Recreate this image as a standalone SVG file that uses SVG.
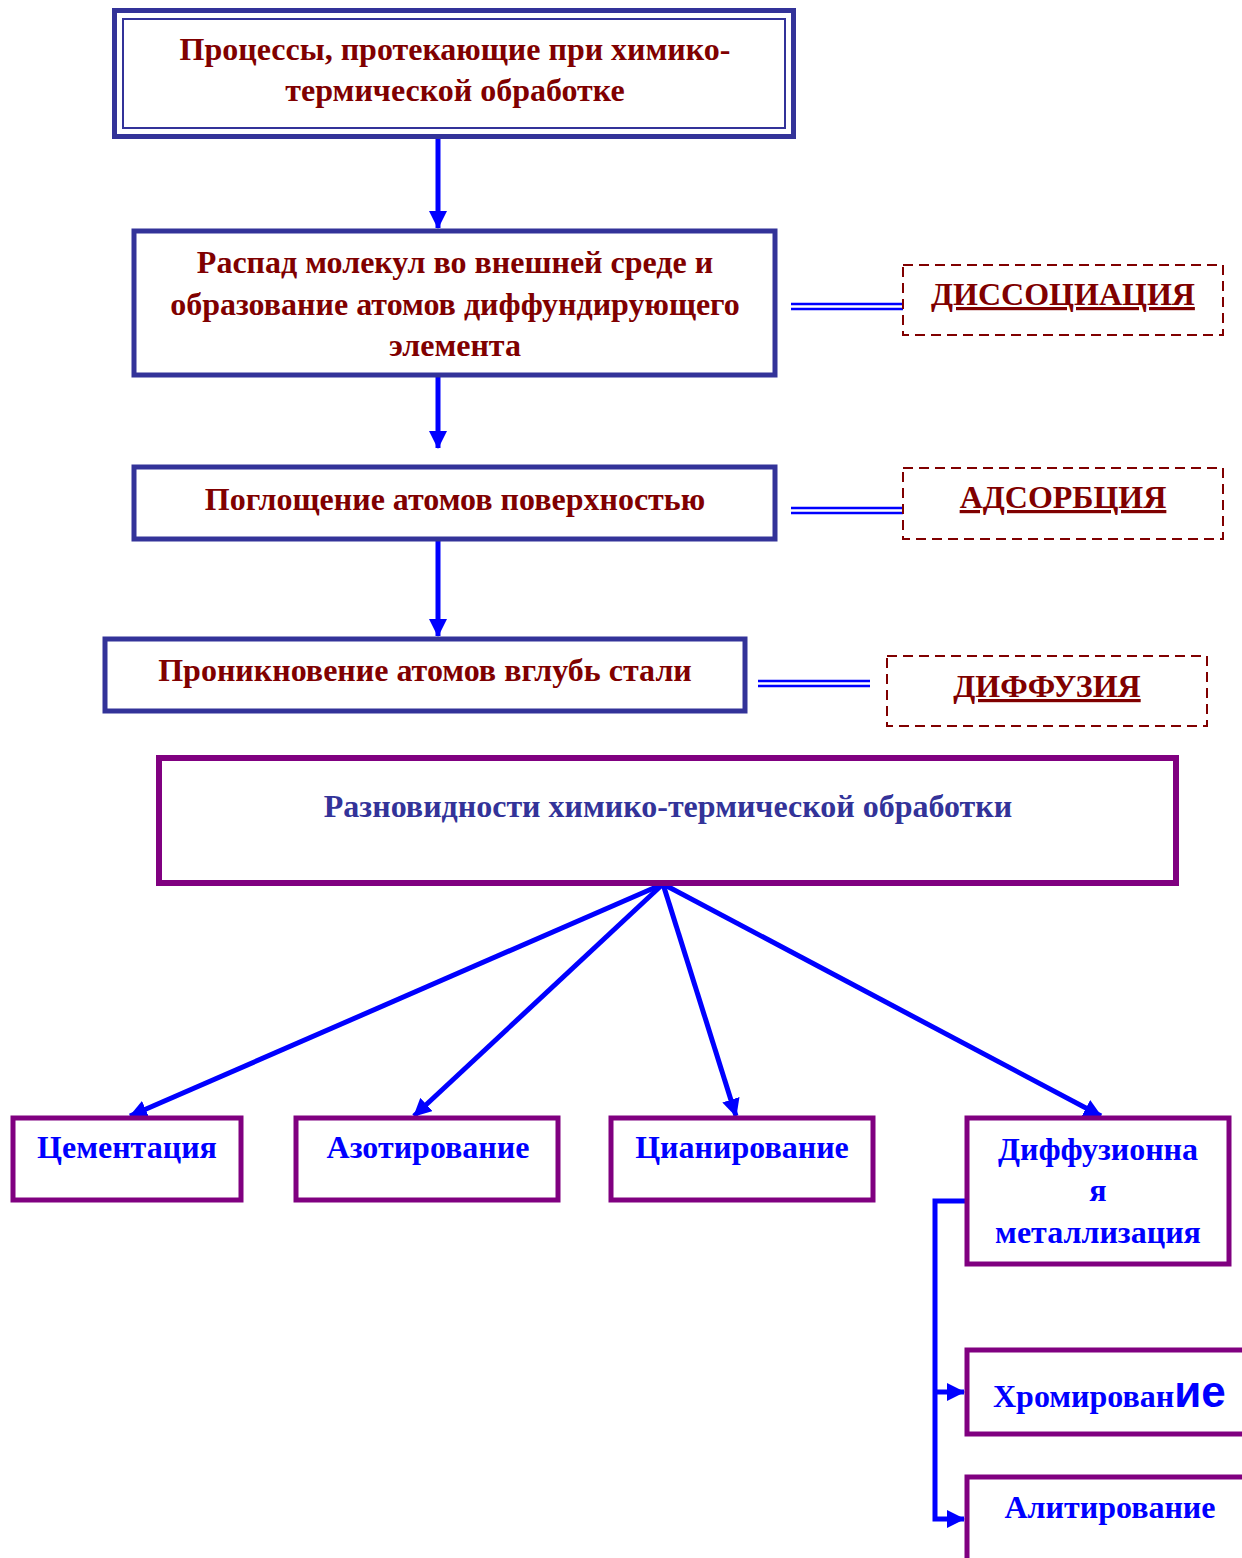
<svg xmlns="http://www.w3.org/2000/svg" width="1242" height="1558" viewBox="0 0 1242 1558">
<defs>
<style>
.t{font-family:"Liberation Serif","Times New Roman",serif;font-weight:bold;text-anchor:middle}
.red{fill:#800000;font-size:32px}
.blue{fill:#0000ff;font-size:32px}
.navy{fill:#333399;font-size:32px}
.lbl{fill:#800000;font-size:32px;text-decoration:underline}
.nb{fill:#fff;stroke:#333399;stroke-width:5}
.pb{fill:#fff;stroke:#800080;stroke-width:5}
.db{fill:#fff;stroke:#800000;stroke-width:2;stroke-dasharray:10,6}
.ar{stroke:#0000ff;stroke-width:5;fill:none}
.dl{stroke:#0000ff;stroke-width:2.5;fill:none}
</style>
<marker id="ah" markerWidth="18" markerHeight="18" viewBox="0 0 18 18" refX="17" refY="9" orient="auto" markerUnits="userSpaceOnUse">
<path d="M0,0 L18,9 L0,18 Z" fill="#0000ff"/>
</marker>
</defs>
<rect width="1242" height="1558" fill="#fff"/>

<g id="connectors">
<line class="ar" x1="438" y1="139" x2="438" y2="228" marker-end="url(#ah)"/>
<line class="ar" x1="438" y1="376" x2="438" y2="448" marker-end="url(#ah)"/>
<line class="ar" x1="438" y1="540" x2="438" y2="636" marker-end="url(#ah)"/>
<line class="dl" x1="791" y1="304" x2="903" y2="304"/>
<line class="dl" x1="791" y1="309" x2="903" y2="309"/>
<line class="dl" x1="791" y1="508" x2="903" y2="508"/>
<line class="dl" x1="791" y1="513" x2="903" y2="513"/>
<line class="dl" x1="758" y1="681" x2="870" y2="681"/>
<line class="dl" x1="758" y1="686" x2="870" y2="686"/>
<line class="ar" x1="663" y1="884" x2="130" y2="1116" marker-end="url(#ah)"/>
<line class="ar" x1="663" y1="884" x2="414" y2="1116" marker-end="url(#ah)"/>
<line class="ar" x1="663" y1="884" x2="736" y2="1116" marker-end="url(#ah)"/>
<line class="ar" x1="663" y1="884" x2="1101" y2="1116" marker-end="url(#ah)"/>
<polyline class="ar" points="966,1201 935,1201 935,1519 964,1519" marker-end="url(#ah)"/>
<line class="ar" x1="935" y1="1392" x2="964" y2="1392" marker-end="url(#ah)"/>
</g>

<g id="n1">
<rect x="114.5" y="10.5" width="679" height="126" fill="#fff" stroke="#333399" stroke-width="5"/>
<rect x="123" y="19" width="662" height="109" fill="none" stroke="#333399" stroke-width="2"/>
<text class="t red" x="455" y="60">Процессы, протекающие при химико-</text>
<text class="t red" x="455" y="101">термической обработке</text>
</g>

<g id="n2">
<rect class="nb" x="134" y="231" width="641" height="144"/>
<text class="t red" x="455" y="273">Распад молекул во внешней среде и</text>
<text class="t red" x="455" y="315">образование атомов диффундирующего</text>
<text class="t red" x="455" y="356">элемента</text>
</g>

<g id="n3">
<rect class="nb" x="134" y="467" width="641" height="72"/>
<text class="t red" x="455" y="510">Поглощение атомов поверхностью</text>
</g>

<g id="n4">
<rect class="nb" x="105" y="639" width="640" height="72"/>
<text class="t red" x="425" y="681">Проникновение атомов вглубь стали</text>
</g>

<g id="d1">
<rect class="db" x="903" y="265" width="320" height="70"/>
<text class="t lbl" x="1063" y="305">ДИССОЦИАЦИЯ</text>
</g>
<g id="d2">
<rect class="db" x="903" y="468" width="320" height="71"/>
<text class="t lbl" x="1063" y="508">АДСОРБЦИЯ</text>
</g>
<g id="d3">
<rect class="db" x="887" y="656" width="320" height="70"/>
<text class="t lbl" x="1047" y="697">ДИФФУЗИЯ</text>
</g>

<g id="n5">
<rect x="159" y="758" width="1017" height="125" fill="#fff" stroke="#800080" stroke-width="6"/>
<text class="t navy" x="668" y="817">Разновидности химико-термической обработки</text>
</g>

<g id="n6">
<rect class="pb" x="13" y="1118" width="228" height="82"/>
<text class="t blue" x="127" y="1158">Цементация</text>
</g>
<g id="n7">
<rect class="pb" x="296" y="1118" width="262" height="82"/>
<text class="t blue" x="428" y="1158">Азотирование</text>
</g>
<g id="n8">
<rect class="pb" x="611" y="1118" width="262" height="82"/>
<text class="t blue" x="742" y="1158">Цианирование</text>
</g>
<g id="n9">
<rect class="pb" x="967" y="1118" width="262" height="146"/>
<text class="t blue" x="1098" y="1160">Диффузионна</text>
<text class="t blue" x="1098" y="1201">я</text>
<text class="t blue" x="1098" y="1243">металлизация</text>
</g>
<g id="n10">
<rect class="pb" x="967" y="1350" width="290" height="84"/>
<text x="993" y="1407" font-family="'Liberation Serif',serif" font-weight="bold" font-size="32" fill="#0000ff">Хромирован<tspan font-family="'Liberation Sans',Arial,sans-serif" font-size="44">ие</tspan></text>
</g>
<g id="n11">
<rect class="pb" x="967" y="1477" width="290" height="100"/>
<text class="t blue" x="1110" y="1518">Алитирование</text>
</g>
</svg>
